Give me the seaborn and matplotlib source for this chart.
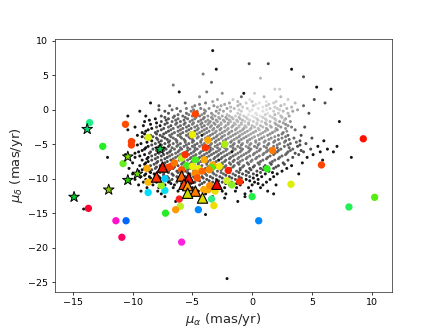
import matplotlib
matplotlib.use("Agg")
import matplotlib.pyplot as plt
import seaborn as sns
import pandas as pd

# ---------------- data ----------------
# background cloud: rows of (mu_delta, [mu_alpha values], darkness digits 1..9)
cloud_rows = [
    (8.6, [-3.3], "9"),
    (6.7, [-0.25, 1.35], "88"),
    (5.9, [-3.0, 3.3], "99"),
    (5.2, [-4.1], "6"),
    (4.8, [4.3], "8"),
    (4.6, [0.7], "3"),
    (4.0, [-3.4], "7"),
    (3.6, [-6.6], "6"),
    (3.3, [5.4], "9"),
    (3.0, [1.9, 2.3, 6.6], "229"),
    (2.6, [-6.1, -3.8], "96"),
    (2.4, [-2.5, -0.7, 0.2], "592"),
    (1.9, [-4.4, -0.9, 1.0, 2.4], "5733"),
    (1.5, [-2.9, -1.6, -0.2, 3.0, 5.2], "42128"),
    (1.2, [-3.3, -1.2, 0.0, 1.2, 2.0], "43212"),
    (1.0, [-8.5, -5.6, -3.9, -1.9, -0.5, 0.6, 1.8, 3.6, 6.1], "976421238"),
    (0.8, [-4.4, -2.3, -1.0, 0.3, 1.4, 2.7], "643122"),
    (0.6, [-7.8, -6.9, -4.8, -3.2, -2.6, -1.2, 0.1, 1.2, 2.4, 4.3], "8765432237"),
    (0.4, [-5.0, -2.9, -1.8, -0.8, 0.9, 1.9, 3.3], "5432123"),
    (0.2, [-6.3, -5.5, -4.3, -3.6, -2.1, -1.5, -0.4, 0.5, 1.5, 2.1, 2.9], "76654321223"),
    (0.0, [-7.8, -6.7, -4.9, -4.0, -2.7, -1.1, 0.0, 1.2, 2.3, 3.8], "8765421124"),
    (-0.2, [-9.4, -7.3, -6.0, -5.1, -4.6, -3.9, -3.0, -2.4, -1.8, -0.9, -0.2, 0.9, 1.8, 2.6, 3.4], "987665543211234"),
    (-0.5, [-7.0, -5.5, -4.0, -3.4, -2.8, -1.2, 0.3, 1.3, 2.2, 3.0, 4.75], "87654211238"),
    (-0.7, [-6.2, -5.3, -4.2, -3.3, -2.1, -1.0, -0.3, 0.4, 1.1, 1.9], "7654321123"),
    (-0.9, [-10.4, -8.9, -7.6, -6.5, -5.8, -5.0, -4.4, -3.7, -3.1, -2.5, -1.9, -1.4, -0.7, 0.0, 0.7, 1.5, 2.4, 3.1], "998776654432211234"),
    (-1.1, [-7.3, -6.6, -5.6, -4.7, -4.0, -3.4, -2.8, -2.2, -1.7, -1.1, -0.5, 0.2, 0.9, 1.7, 2.5], "877665443321223"),
    (-1.3, [-8.1, -7.0, -6.2, -5.4, -4.8, -4.1, -3.3, -2.7, -2.1, -1.6, -1.0, -0.4, 0.4, 1.1, 1.9, 2.8], "9877665443322234"),
    (-1.5, [-8.6, -7.2, -6.4, -5.7, -5.0, -4.3, -3.7, -3.0, -2.4, -1.9, -1.3, -0.8, -0.2, 0.5, 1.2, 2.0, 2.7], "98776655443322223"),
    (-1.7, [-9.0, -7.6, -6.7, -6.0, -5.2, -4.5, -3.9, -3.5, -2.9, -2.3, -1.8, -1.2, -0.6, 0.1, 0.8, 1.5, 2.3, 3.2, 7.3], "9877665544332223459"),
    (-1.9, [-8.0, -7.1, -6.3, -5.6, -4.9, -4.2, -3.6, -3.2, -2.6, -2.0, -1.5, -0.9, -0.3, 0.4, 1.1, 1.9, 2.6], "98776655443332334"),
    (-2.1, [-8.5, -7.3, -6.4, -5.7, -5.0, -4.3, -3.7, -3.1, -2.6, -2.0, -1.4, -0.9, -0.3, 0.4, 1.2, 2.0, 2.8], "98776655443332345"),
    (-2.3, [-9.1, -7.7, -6.8, -6.0, -5.3, -4.6, -4.0, -3.4, -2.8, -2.2, -1.6, -1.1, -0.6, 0.0, 0.7, 1.5, 2.2, 3.0], "998776655443333345"),
    (-2.5, [-9.8, -8.0, -7.0, -6.2, -5.5, -4.8, -4.2, -3.5, -2.9, -2.3, -1.7, -1.1, -0.5, 0.2, 0.9, 1.6, 2.4, 3.3, 4.4], "9877766554433334568"),
    (-2.7, [-8.4, -7.4, -6.6, -5.8, -5.1, -4.5, -3.8, -3.2, -2.6, -2.0, -1.3, -0.7, -0.1, 0.5, 1.2, 2.0, 2.8], "98777665544443445"),
    (-2.9, [-10.4, -8.7, -7.6, -6.8, -6.0, -5.3, -4.6, -4.0, -3.3, -2.7, -2.1, -1.4, -0.8, -0.2, 0.6, 1.3, 2.1, 3.6], "998777665544433457"),
    (-3.1, [-8.9, -7.9, -7.0, -6.2, -5.5, -4.8, -4.2, -3.6, -3.0, -2.3, -1.7, -1.0, -0.4, 0.3, 1.1, 1.9, 2.9], "98877766555444445"),
    (-3.3, [-9.2, -8.1, -7.2, -6.5, -5.8, -5.1, -4.4, -3.8, -3.1, -2.5, -1.9, -1.2, -0.6, 0.1, 0.9, 1.7, 2.6], "98877766555444456"),
    (-3.5, [-9.0, -8.0, -7.4, -6.7, -6.0, -5.3, -4.6, -4.0, -3.3, -2.7, -2.0, -1.4, -0.8, -0.1, 0.7, 1.5, 2.5], "98877766655544456"),
    (-3.7, [-9.6, -8.5, -7.7, -6.9, -6.2, -5.5, -4.8, -4.2, -3.5, -2.9, -2.3, -1.6, -1.0, -0.3, 0.5, 1.3, 2.2, 3.0, 4.1], "9887776965554445678"),
    (-3.9, [-9.2, -8.3, -7.5, -6.8, -6.0, -5.3, -4.5, -3.7, -3.0, -2.5, -1.8, -1.1, -0.5, 0.2, 1.0, 1.9, 2.8], "98877766665554456"),
    (-4.1, [-8.9, -8.0, -7.3, -6.6, -5.9, -5.2, -4.6, -3.9, -3.2, -2.6, -2.0, -1.3, -0.7, 0.0, 0.8, 1.6, 2.5, 3.5, 5.0], "9887776665555455678"),
    (-4.3, [-8.7, -7.9, -7.1, -6.4, -5.7, -5.0, -4.2, -3.4, -2.8, -2.2, -1.5, -0.9, -0.2, 0.6, 1.4, 2.2, 3.1], "98877766665555567"),
    (-4.5, [-9.9, -8.4, -7.6, -6.9, -6.3, -5.6, -4.9, -4.3, -3.6, -3.0, -2.4, -1.7, -1.1, -0.4, 0.3, 1.1, 1.9, 2.8, 4.0, 6.0], "99877776665555556789"),
    (-4.7, [-8.8, -7.8, -7.0, -6.3, -5.6, -5.0, -4.3, -3.7, -3.1, -2.4, -1.8, -1.1, -0.4, 0.3, 1.0, 1.8, 2.7, 3.7], "988777766666555667"),
    (-4.9, [-9.3, -8.1, -7.3, -6.6, -6.0, -5.3, -4.6, -4.0, -3.4, -2.7, -2.1, -1.5, -0.8, -0.1, 0.6, 1.4, 2.3, 3.2, 4.5], "9887777666665556678"),
    (-5.1, [-9.6, -8.4, -7.6, -6.9, -6.2, -5.5, -4.8, -4.2, -3.5, -2.9, -2.3, -1.6, -0.9, -0.2, 0.5, 1.3, 2.1, 3.0, 4.0], "9887777666666566678"),
    (-5.3, [-10.2, -8.7, -7.8, -7.0, -6.3, -5.7, -5.0, -4.4, -3.7, -3.1, -2.5, -1.8, -1.2, -0.5, 0.2, 1.0, 1.8, 2.7, 3.8, 5.5, 7.1], "998877769666656667899"),
    (-5.5, [-8.9, -8.0, -7.4, -6.7, -6.0, -5.4, -4.8, -4.1, -3.5, -2.9, -2.3, -1.6, -1.0, -0.3, 0.4, 1.2, 2.1, 3.1], "988777777666666677"),
    (-5.7, [-9.0, -8.3, -7.2, -6.5, -5.9, -5.2, -4.6, -4.0, -3.3, -2.7, -2.1, -1.4, -0.8, -0.1, 0.7, 1.5, 2.4, 3.4, 4.9, 6.3], "98877777666666667789"),
    (-5.9, [-9.2, -8.0, -7.4, -6.8, -6.1, -5.4, -4.8, -4.1, -3.5, -2.8, -2.2, -1.6, -0.9, -0.2, 0.6, 1.3, 2.2, 3.2, 4.1], "9887777776666666778"),
    (-6.1, [-9.5, -8.5, -7.7, -6.9, -6.2, -5.5, -4.9, -4.3, -3.6, -3.0, -2.4, -1.7, -1.0, -0.3, 0.4, 1.2, 2.1, 3.0, 4.3, 5.7, 6.8], "988877777769666677899"),
    (-6.3, [-9.8, -8.6, -7.8, -7.1, -6.4, -5.8, -5.1, -4.4, -3.8, -3.2, -2.6, -1.9, -1.2, -0.5, 0.2, 1.0, 1.9, 2.9, 3.6], "9888777777766666778"),
    (-6.5, [-10.6, -9.0, -8.1, -7.4, -6.7, -6.0, -5.3, -4.7, -4.0, -3.4, -2.8, -2.1, -1.4, -0.7, 0.1, 0.9, 1.8, 2.8, 3.9, 5.1], "99887777777766667789"),
    (-6.7, [-9.4, -8.4, -7.6, -6.9, -6.2, -5.5, -4.9, -4.2, -3.6, -2.9, -2.3, -1.6, -0.9, -0.2, 0.6, 1.5, 2.5], "98877777777766677"),
    (-6.9, [-12.1, -9.8, -8.7, -7.9, -7.1, -6.4, -5.7, -5.1, -4.4, -3.8, -3.1, -2.5, -1.8, -1.1, -0.4, 0.4, 1.3, 2.3, 3.4, 4.6, 8.3], "999887777777766677899"),
    (-7.1, [-8.8, -8.1, -7.3, -6.6, -5.9, -5.2, -4.5, -3.9, -3.2, -2.6, -1.9, -1.2, -0.5, 0.3, 1.2, 2.2], "9887777777766677"),
    (-7.3, [-9.2, -8.4, -7.6, -6.8, -6.1, -5.4, -4.8, -4.1, -3.5, -2.8, -2.2, -1.5, -0.8, 0.0, 0.9, 1.9, 3.0, 5.9], "988877777977667789"),
    (-7.5, [-8.7, -7.9, -7.1, -6.4, -5.7, -5.0, -4.3, -3.7, -3.0, -2.3, -1.6, -1.0, -0.1, 0.7, 1.7], "988777777776677"),
    (-7.7, [-10.0, -8.9, -8.0, -7.3, -6.6, -5.8, -5.1, -4.5, -3.8, -3.2, -2.5, -1.9, -1.2, -0.4, 0.5, 1.5, 2.6, 4.2], "998887777777777789"),
    (-7.9, [-9.0, -8.2, -7.4, -6.6, -5.9, -5.2, -4.5, -3.8, -3.2, -2.5, -1.8, -1.1, -0.3, 0.6, 1.6, 2.7], "9888777777777788"),
    (-8.1, [-9.4, -8.5, -7.7, -6.9, -6.2, -5.5, -4.8, -4.2, -3.5, -2.9, -2.2, -1.5, -0.7, 0.2, 1.1, 2.2, 3.3], "98888777777777889"),
    (-8.3, [-8.8, -8.0, -7.2, -6.5, -5.7, -5.0, -4.3, -3.7, -3.0, -2.3, -1.6, -0.8, 0.1, 1.0, 2.0], "988877777777888"),
    (-8.5, [-10.3, -9.0, -8.1, -7.4, -6.6, -5.9, -5.2, -4.5, -3.9, -3.2, -2.5, -1.8, -1.0, -0.2, 0.7, 1.8, 2.9], "99888877777778889"),
    (-8.7, [-9.2, -8.4, -7.6, -6.9, -6.1, -5.4, -4.7, -4.0, -3.3, -2.6, -1.8, -1.0, -0.1, 0.9], "98888777777888"),
    (-8.9, [-9.5, -8.6, -7.8, -7.0, -6.3, -5.6, -4.9, -4.2, -3.6, -2.9, -2.1, -1.3, -0.5, 0.4, 1.4, 2.5], "9988887877778899"),
    (-9.1, [-8.5, -7.7, -7.0, -6.2, -5.4, -4.8, -4.0, -3.3, -2.6, -1.9, -1.1, -0.3, 0.7, 1.7], "98888777788889"),
    (-9.3, [-10.0, -8.9, -8.2, -7.4, -6.7, -5.9, -5.2, -4.6, -3.9, -3.2, -2.4, -1.6, -0.8, 0.1, 1.1, 2.1, 3.9], "99988888777788999"),
    (-9.5, [-9.0, -8.1, -7.4, -6.6, -5.9, -5.2, -4.5, -3.8, -3.0, -2.2, -1.4, -0.5, 0.4], "9988888778889"),
    (-9.7, [-9.3, -8.6, -7.8, -7.1, -6.3, -5.6, -4.9, -4.2, -3.5, -2.7, -1.9, -1.1, -0.2, 0.8, 1.8], "998888888888899"),
    (-9.9, [-8.5, -7.7, -7.0, -6.2, -5.5, -4.8, -4.1, -3.3, -2.5, -1.7, -0.9, 0.1], "998888888889"),
    (-10.1, [-9.8, -8.9, -8.2, -7.4, -6.7, -6.0, -5.3, -4.5, -3.8, -3.0, -2.2, -1.4, -0.5, 0.5, 1.5], "999888888888999"),
    (-10.3, [-8.6, -7.8, -6.9, -6.0, -5.2, -4.4, -3.6, -2.8, -2.0, -1.1, -0.2], "99888888889"),
    (-10.5, [-9.1, -8.0, -7.0, -6.3, -5.5, -4.8, -4.0, -3.3, -2.5, -1.7, -0.8, 0.2, 1.2], "9998888888999"),
    (-10.7, [-8.6, -7.5, -6.8, -5.9, -5.1, -4.2, -3.0, -2.2, -1.3, 0.5], "9998888999"),
    (-10.9, [-9.5, -8.3, -7.3, -6.5, -5.6, -4.4, -3.6, -2.8, -1.9, -1.0, 0.0, 0.9, 2.0], "9999888889999"),
    (-11.3, [-8.8, -7.8, -6.6, -5.0, -4.1, -3.3, -2.3, -1.3, -0.3, 0.7], "9999899999"),
    (-11.8, [-9.3, -7.9, -6.2, -4.5, -3.6, -2.5, -1.4, -0.1, 1.3], "999999999"),
    (-12.2, [-7.6, -5.5, -3.9, -2.2, -0.6, 1.8], "999999"),
    (-12.6, [-7.3, -5.1, -3.3, -0.6], "9999"),
    (-12.8, [-2.3], "9"),
    (-13.3, [-6.4, -4.3, -1.2], "999"),
    (-14.4, [-14.1], "9"),
    (-15.2, [-3.9], "9"),
    (-24.5, [-2.1], "9"),
]

# coloured members (circles)
dot_x = [-13.6, -10.6, -10.1, -10.1, -12.5, -8.7, -4.75, -5.0, -3.7, -3.9,
         -2.3, 1.7, 9.3, 5.8, 1.25, 3.25, 0.0, 10.25, 8.1, 0.55,
         -2.1, -1.7, -1.05, -2.0, -2.75, -3.3, -3.5, -4.0, -4.75, -4.5,
         -3.4, -3.6, -4.75, -4.6, -3.1, -3.7, -3.4, -3.2, -4.5, -6.0,
         -6.4, -7.25, -6.1, -7.3, -7.3, -8.7, -7.6, -8.7, -8.8, -10.8,
         -11.4, -10.55, -10.9, -5.9, -13.7, -6.8, -6.5, -5.9, -5.6, -5.5,
         -7.1, -5.9, -5.0, -4.2, -4.05, -3.55]
dot_y = [-1.85, -2.1, -4.6, -5.1, -5.3, -4.0, -0.6, -3.6, -4.4, -5.5,
         -5.0, -5.9, -4.2, -8.0, -8.55, -10.8, -12.6, -12.7, -14.1, -16.1,
         -10.3, -10.9, -10.4, -8.8, -8.2, -8.0, -8.5, -7.25, -7.25, -8.55,
         -8.4, -8.7, -9.2, -9.9, -11.8, -11.6, -12.95, -13.9, -14.5, -14.0,
         -14.5, -15.0, -12.95, -10.0, -11.7, -12.0, -11.0, -10.5, -8.5, -7.8,
         -16.1, -16.1, -18.5, -19.2, -14.3, -8.2, -7.7, -7.0, -6.5, -8.1,
         -8.4, -8.7, -8.2, -8.9, -11.6, -11.0]
dot_c = ["#1ef08a", "#ff4d00", "#ff4000", "#ff4000", "#22ee22", "#ddee11", "#ff4400", "#eeee00", "#ffaa00", "#ff3300",
         "#aaee11", "#ff7700", "#ff1100", "#ff4400", "#33ee22", "#ddee00", "#22ee44", "#55ee11", "#22ee55", "#0088ff",
         "#ccee22", "#88ee22", "#ff3300", "#ff2200", "#eeee00", "#ffaa00", "#ff5500", "#ffaa00", "#44ee22", "#eeee00",
         "#44ee22", "#ff8800", "#ff8800", "#ff5500", "#eedd00", "#ffaa00", "#33ee88", "#eedd00", "#0088ff", "#bbee22",
         "#ff9900", "#22ee22", "#ff2222", "#00ccff", "#00e0f0", "#00ddff", "#99ee22", "#ffbb00", "#ffaa00", "#66ee22",
         "#ff11cc", "#0066ff", "#ff0066", "#ff22dd", "#ff0033", "#ff4400", "#ff7700", "#bbee11", "#ff3300", "#44ee22",
         "#ff4400", "#ff5500", "#eeee00", "#ff6600", "#ffaa00", "#ff8800"]

# stars
star_x = [-13.8, -7.7, -10.4, -9.6, -10.4, -12.0, -14.9]
star_y = [-2.8, -5.7, -6.8, -9.3, -10.2, -11.6, -12.65]
star_c = ["#00dd77", "#00cc44", "#77dd00", "#66dd00", "#22cc00", "#88cc00", "#00cc33"]

# triangles
tri_x = [-7.5, -8.0, -5.9, -5.3, -5.7, -5.4, -4.75, -5.4, -4.15, -2.95]
tri_y = [-8.3, -9.75, -9.6, -9.9, -10.8, -11.0, -11.8, -12.1, -12.8, -10.8]
tri_c = ["#e81800", "#ff3300", "#ff6600", "#ee1100", "#ff4400", "#ff9900", "#ff7700", "#ccdd00", "#dddd00", "#ee0000"]

x_ticks = [-15, -10, -5, 0, 5, 10]
y_ticks = [-25, -20, -15, -10, -5, 0, 5, 10]

# ---------------- build tables ----------------
cx, cy, cs = [], [], []
for yv, xs, shades in cloud_rows:
    for xv, d in zip(xs, shades):
        cx.append(xv)
        cy.append(yv)
        cs.append(d)
cloud = pd.DataFrame({"x": cx, "y": cy, "s": cs})
grey_pal = {"0": "0.94", "1": "0.88", "2": "0.80", "3": "0.72", "4": "0.64",
            "5": "0.56", "6": "0.48", "7": "0.40", "8": "0.30", "9": "0.08"}

dots = pd.DataFrame({"x": dot_x, "y": dot_y, "c": dot_c})
stars = pd.DataFrame({"x": star_x, "y": star_y, "c": star_c})
tris = pd.DataFrame({"x": tri_x, "y": tri_y, "c": tri_c})

# ---------------- plot ----------------
sns.set_style("ticks")
plt.rcParams["font.family"] = ["DejaVu Sans"]
fig, ax = plt.subplots(figsize=(6.4, 4.8), dpi=68.125)
fig.subplots_adjust(left=0.126, right=0.899, top=0.881, bottom=0.108)

sns.scatterplot(data=cloud, x="x", y="y", hue="s", palette=grey_pal,
                s=10, linewidth=0, legend=False, ax=ax, zorder=1)
sns.scatterplot(data=dots, x="x", y="y", hue="c",
                palette={c: c for c in dot_c}, s=60, linewidth=0,
                legend=False, ax=ax, zorder=2)
sns.scatterplot(data=stars, x="x", y="y", hue="c",
                palette={c: c for c in star_c}, marker="*", s=140,
                edgecolor="black", linewidth=1.0, legend=False, ax=ax, zorder=3)
sns.scatterplot(data=tris, x="x", y="y", hue="c",
                palette={c: c for c in tri_c}, marker="^", s=120,
                edgecolor="black", linewidth=1.2, legend=False, ax=ax, zorder=4)

ax.set_xlim(-16.5, 11.7)
ax.set_ylim(-26.4, 10.3)
ax.set_xticks(x_ticks)
ax.set_yticks(y_ticks)
ax.tick_params(labelsize=10, colors="black", length=3.5)
for sp in ax.spines.values():
    sp.set_color("#333333")
ax.set_xlabel(r"$\mu_{\alpha}$ (mas/yr)", fontsize=14)
ax.set_ylabel(r"$\mu_{\delta}$ (mas/yr)", fontsize=14)

fig.savefig("out.png", dpi=68.125)
